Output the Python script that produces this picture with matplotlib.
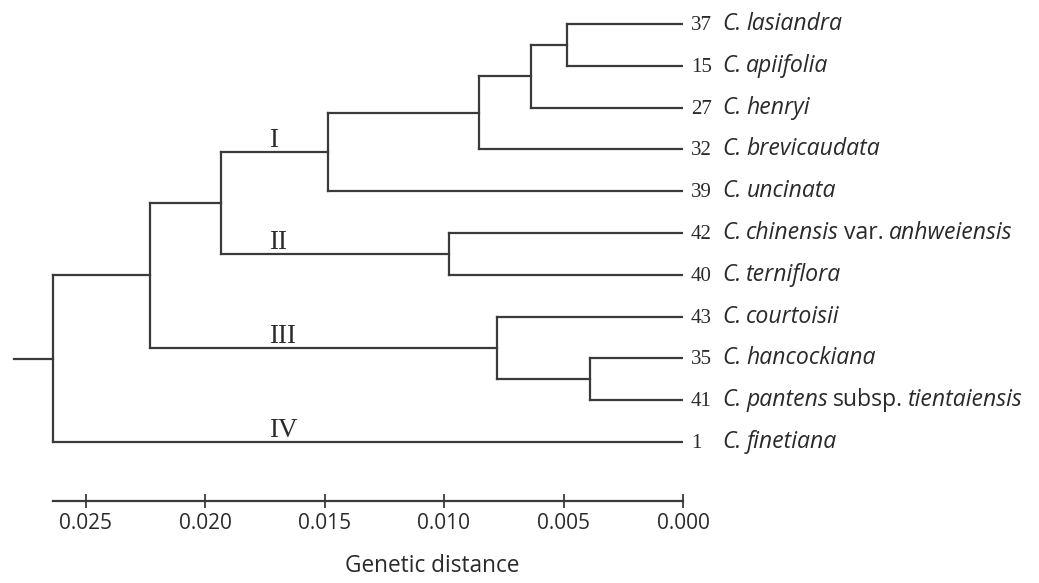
import matplotlib
matplotlib.use("Agg")
import matplotlib.pyplot as plt
from matplotlib.transforms import offset_copy

# ---- data ----
leaf_numbers = ["37", "15", "27", "32", "39", "42", "40", "43", "35", "41", "1"]
leaf_names = ["C. lasiandra", "C. apiifolia", "C. henryi", "C. brevicaudata",
              "C. uncinata", "C. chinensis var. anhweiensis", "C. terniflora",
              "C. courtoisii", "C. hancockiana", "C. pantens subsp. tientaiensis",
              "C. finetiana"]
upright_words = ["var.", "subsp."]
# merges (linkage style): new cluster ids start at len(leaves)
merge_a = [0, 11, 12, 13, 5, 14, 8, 7, 16, 19]
merge_b = [1, 2, 3, 4, 6, 15, 9, 17, 18, 10]
merge_height = [0.00486, 0.00637, 0.00854, 0.01487, 0.0098, 0.01935,
                0.0039, 0.00779, 0.02232, 0.02638]
cluster_labels = ["I", "II", "III", "IV"]
cluster_nodes = [14, 15, 18, 10]
tick_values = [0.025, 0.020, 0.015, 0.010, 0.005, 0.000]
tick_labels = ["0.025", "0.020", "0.015", "0.010", "0.005", "0.000"]
axis_label = "Genetic distance"

# ---- style ----
W, H = 1039, 583
LINE = "#3a3a3a"
TEXT = "#2a2a2a"
LW = 1.6
NAME_SIZE = 16.6
NUM_SIZE = 15
ROMAN_SIZE = 19.5
TICK_SIZE = 15
LABEL_SIZE = 16.3

fig = plt.figure(figsize=(W / 100, H / 100), dpi=100)
ax_bottom_px = 500.7
ax = fig.add_axes([0, 1 - ax_bottom_px / H, 683 / W, ax_bottom_px / H])
px_per_unit = 23900.0
ax.set_xlim(683 / px_per_unit, 0)
leaf_gap = 41.8
ax.set_ylim((ax_bottom_px - 24) / leaf_gap, -24 / leaf_gap)

n = len(leaf_names)
xpos = {i: 0.0 for i in range(n)}
ypos = {i: float(i) for i in range(n)}
for k, (a, b, h) in enumerate(zip(merge_a, merge_b, merge_height)):
    nid = n + k
    for c in (a, b):
        ax.plot([xpos[c], h], [ypos[c], ypos[c]], color=LINE, lw=LW,
                solid_capstyle="projecting")
    ax.plot([h, h], [ypos[a], ypos[b]], color=LINE, lw=LW,
            solid_capstyle="projecting")
    xpos[nid] = h
    ypos[nid] = (ypos[a] + ypos[b]) / 2

root = n + len(merge_a) - 1
stub = 0.00163
ax.plot([xpos[root], xpos[root] + stub], [ypos[root], ypos[root]],
        color=LINE, lw=LW)

# cluster labels
lab_tr = offset_copy(ax.transData, fig=fig, x=0, y=5, units="dots")
lab_x = (683 - 269) / px_per_unit
for lab, node in zip(cluster_labels, cluster_nodes):
    ax.text(lab_x, ypos[node], lab, transform=lab_tr, ha="left",
            va="baseline", fontsize=ROMAN_SIZE, family="Liberation Serif",
            color=TEXT)

# axis
for s in ("top", "left", "right"):
    ax.spines[s].set_visible(False)
ax.spines["bottom"].set_bounds(0, xpos[root])
ax.spines["bottom"].set_color(LINE)
ax.spines["bottom"].set_linewidth(LW)
ax.set_xticks(tick_values)
ax.set_xticklabels(tick_labels, family="Open Sans", fontsize=TICK_SIZE,
                   color=TEXT)
ax.tick_params(axis="x", direction="inout", length=10, width=1.3,
               color=LINE, pad=4)
ax.set_yticks([])
ax.patch.set_alpha(0)

fig.text(345 / W, 1 - 566 / H, axis_label, ha="left", va="center",
         fontsize=LABEL_SIZE, family="Open Sans", color=TEXT)

# leaf labels (number + mixed italic/upright name)
fig.canvas.draw()
renderer = fig.canvas.get_renderer()
for i in range(n):
    num_tr = offset_copy(ax.transData, fig=fig, x=8, y=-6, units="dots")
    ax.text(0, ypos[i], leaf_numbers[i], transform=num_tr, ha="left",
            va="baseline", fontsize=NUM_SIZE, family="Liberation Serif",
            color=TEXT)
    x_off = 39
    for w in leaf_names[i].split(" "):
        style = "normal" if w in upright_words else "italic"
        tr = offset_copy(ax.transData, fig=fig, x=x_off, y=-6, units="dots")
        t = ax.text(0, ypos[i], w, transform=tr, ha="left", va="baseline",
                    fontsize=NAME_SIZE, family="Open Sans", style=style,
                    color=TEXT)
        bb = t.get_window_extent(renderer)
        x_off += bb.width + 5

fig.savefig("out.png", dpi=100, facecolor="white")
